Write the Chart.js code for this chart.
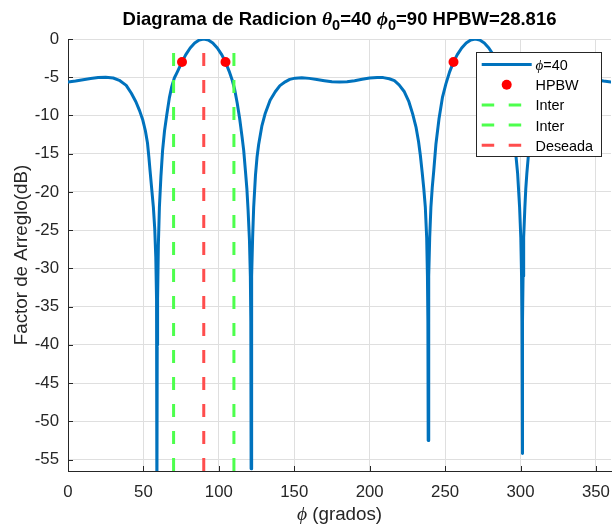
<!DOCTYPE html>
<html>
<head>
<meta charset="utf-8">
<script src="https://cdn.jsdelivr.net/npm/chart.js@4/dist/chart.umd.min.js"></script>
<style>
  html, body { margin: 0; padding: 0; background: #fff; overflow: hidden; width: 613px; height: 527px; }
  #wrap { position: relative; width: 613px; height: 527px; overflow: hidden; }
  canvas { display: block; }
</style>
</head>
<body>
<div id="wrap"><canvas id="c" width="616" height="527"></canvas></div>
<script>
// Array factor cut (dB) versus azimuth phi (degrees)
const phiDeg = [
  0, 5, 10, 15, 20, 25, 30, 34, 38.6, 42, 45, 47.5, 49.6, 51.3, 52.7, 53.6, 54.4, 55.5, 56.6, 57.5,
  58.2, 58.7, 58.88, 59.0, 59.15, 59.4, 59.9, 60.6, 61.6, 62.7, 64.0, 65.5, 67.2, 68.8, 70.5, 72.5, 75.59, 78,
  81, 84, 87, 90, 93, 96, 99, 102, 104.41, 106.8, 108.9, 110.5, 112.2, 113.8, 115.4, 116.5, 117.7,
  118.6, 119.4, 120.3, 120.9, 121.2, 121.4, 121.6, 121.9, 122.4, 123.1, 124.3, 125.3, 126.4, 128.5, 130.8, 134,
  137.4, 140.5, 144, 147, 150.6, 155, 160, 165, 170, 175, 180, 185, 190, 195, 200, 205, 209, 213,
  216.4, 219.5, 223, 226, 228.5, 230.8, 232.4, 233.6, 234.8, 235.9, 236.9, 237.8, 238.3, 238.6, 238.8,
  239.0, 239.3, 239.8, 240.6, 241.5, 242.5, 243.9, 246, 248.3, 250.5, 253, 255.59, 258, 261, 264, 267,
  270, 273, 276, 279, 282, 284.41, 287, 289.5, 291.7, 294, 295.9, 297, 298.1, 299.4, 300.2, 300.7, 301.0,
  301.2, 301.45, 301.7, 302.1, 302.9, 303.5, 304.2, 305.2, 306.4, 308, 309.9, 312.5, 315, 318, 321.5, 325,
  330, 335, 340, 345, 350, 355, 360
];
const afDb = [
  -5.63, -5.5, -5.33, -5.17, -5.05, -5.0, -5.1, -5.4, -6.07, -7.1, -8.2, -9.4, -10.6, -12.0, -13.6, -15.4, -17.2, -19.6, -22, -24.8,
  -28.5, -34, -40, -62, -40, -34, -27, -22, -18, -14.6, -12.0, -9.9, -7.7, -6.2, -5.1, -4.3, -3.0, -2.08,
  -1.17, -0.52, -0.13, 0, -0.13, -0.52, -1.17, -2.08, -3.0, -4.2, -5.4, -6.6, -8.4, -10.4, -12.8, -14.6, -17.4,
  -19.6, -22.4, -26.3, -31, -37, -56.2, -37, -31, -26, -22, -17.8, -15.5, -13.8, -11.4, -9.7, -8.0,
  -6.9, -6.1, -5.6, -5.28, -5.12, -5.08, -5.15, -5.3, -5.45, -5.58, -5.63, -5.58, -5.45, -5.27, -5.1, -5.02, -5.05, -5.2,
  -5.45, -6.0, -6.9, -8.2, -9.8, -11.6, -13.4, -15.2, -17.4, -19.6, -22, -26, -31, -37, -52.5,
  -37, -31, -26, -22, -19.4, -17.2, -13.8, -10.4, -7.6, -5.9, -4.3, -3.0, -2.08, -1.17, -0.52, -0.13,
  0, -0.13, -0.52, -1.17, -2.08, -3.0, -4.3, -5.9, -7.6, -10.4, -13.4, -15.3, -17.6, -22, -26, -31, -37,
  -54.2, -37, -31, -26, -22, -19.6, -17.6, -15.3, -13.4, -11.4, -9.7, -7.7, -6.3, -5.5, -5.15, -5.05,
  -5.0, -5.0, -5.05, -5.17, -5.33, -5.5, -5.63
];

// Half-power points
const hpbwPhi = [75.59, 104.41, 255.59];
const hpbwDb = [-3, -3, -3];

// Vertical reference lines
const interPhi = [70, 110];
const desiredPhi = 90;
const spanDb = [-56.5, 0];

// Axes
const xTicks = [0, 50, 100, 150, 200, 250, 300, 350];
const yTicks = [0, -5, -10, -15, -20, -25, -30, -35, -40, -45, -50, -55];
const xRange = [0, 360];
const yRange = [-56.5, 0];

const SANS = '"Liberation Sans", Arial, Helvetica, sans-serif';
const SERIF = '"Liberation Serif", "DejaVu Serif", serif';
const AX = '#262626';
const GRID = '#dfdfdf';
const BLUE = '#0072BD';
const GREEN = '#4dff4d';
const RED = '#ff4d4d';

const vLine = (px) => spanDb.map(v => ({ x: px, y: v }));

const datasets = [
  { label: 'ϕ=40', data: phiDeg.map((p, i) => ({ x: p, y: afDb[i] })),
    showLine: true, borderColor: BLUE, borderWidth: 3, borderJoinStyle: 'round', borderCapStyle: 'round',
    pointRadius: 0, order: 5, kind: 'line' },
  { label: 'HPBW', data: hpbwPhi.map((p, i) => ({ x: p, y: hpbwDb[i] })),
    showLine: false, pointRadius: 5, pointBackgroundColor: '#ff0000', pointBorderColor: '#ff0000',
    pointBorderWidth: 0, order: 4, kind: 'dot' },
  { label: 'Inter', data: vLine(interPhi[0]), showLine: true, borderColor: GREEN, borderWidth: 3,
    borderDash: [13, 14], pointRadius: 0, order: 3, kind: 'dash' },
  { label: 'Inter', data: vLine(interPhi[1]), showLine: true, borderColor: GREEN, borderWidth: 3,
    borderDash: [13, 14], pointRadius: 0, order: 2, kind: 'dash' },
  { label: 'Deseada', data: vLine(desiredPhi), showLine: true, borderColor: RED, borderWidth: 3,
    borderDash: [13, 14], pointRadius: 0, order: 1, kind: 'dash' }
];

function drawRuns(ctx, parts, cx, baseline) {
  let total = 0;
  parts.forEach(p => { ctx.font = p.font; p.w = ctx.measureText(p.text).width; total += p.w; });
  let x0 = cx - total / 2;
  parts.forEach(p => {
    ctx.font = p.font;
    ctx.fillText(p.text, x0, baseline + (p.dy || 0));
    x0 += p.w;
  });
}

const decor = {
  id: 'decor',
  afterDatasetsDraw(chart) {
    const { ctx, chartArea: a, scales: { x, y } } = chart;
    ctx.save();
    ctx.strokeStyle = AX;
    ctx.lineWidth = 1;
    ctx.beginPath();
    yTicks.forEach(v => {
      const py = Math.round(y.getPixelForValue(v)) + 0.5;
      ctx.moveTo(a.left, py); ctx.lineTo(a.left + 5, py);
    });
    xTicks.forEach(v => {
      const px = Math.round(x.getPixelForValue(v)) + 0.5;
      ctx.moveTo(px, a.bottom); ctx.lineTo(px, a.bottom - 5);
    });
    ctx.stroke();
    ctx.restore();
  },
  afterDraw(chart) {
    const { ctx, chartArea: a } = chart;
    const cx = (a.left + a.right) / 2;
    ctx.save();
    ctx.fillStyle = '#000';
    ctx.textAlign = 'left';
    ctx.textBaseline = 'alphabetic';

    // Title
    const tb = 'bold 18.5px ' + SANS;
    const tg = 'italic bold 19.5px ' + SERIF;
    const ts = 'bold 14.5px ' + SANS;
    drawRuns(ctx, [
      { text: 'Diagrama de Radicion ', font: tb },
      { text: 'θ', font: tg },
      { text: '0', font: ts, dy: 5 },
      { text: '=40 ', font: tb },
      { text: 'ϕ', font: tg },
      { text: '0', font: ts, dy: 5 },
      { text: '=90 HPBW=28.816', font: tb }
    ], cx, 25);

    // x-axis title
    ctx.fillStyle = AX;
    drawRuns(ctx, [
      { text: 'ϕ', font: 'italic 19.5px ' + SERIF },
      { text: ' (grados)', font: '18.8px ' + SANS }
    ], cx, 520);

    // Legend
    const L = { x: 476.5, y: 52.5, w: 125, h: 104 };
    ctx.fillStyle = '#fff';
    ctx.fillRect(L.x, L.y, L.w, L.h);
    ctx.strokeStyle = AX;
    ctx.lineWidth = 1;
    ctx.strokeRect(L.x, L.y, L.w, L.h);
    const s0 = 481.7, s1 = 531.7, tx = 535.5;
    chart.data.datasets.forEach((ds, i) => {
      const ry = 64.5 + i * 20.2;
      ctx.save();
      if (ds.kind === 'dot') {
        ctx.fillStyle = '#ff0000';
        ctx.beginPath();
        ctx.arc((s0 + s1) / 2, ry, 5, 0, Math.PI * 2);
        ctx.fill();
      } else {
        ctx.strokeStyle = ds.borderColor;
        ctx.lineWidth = 3;
        ctx.setLineDash(ds.kind === 'dash' ? [12.5, 14.5] : []);
        ctx.beginPath();
        ctx.moveTo(s0, ry); ctx.lineTo(s1, ry);
        ctx.stroke();
      }
      ctx.restore();
      ctx.fillStyle = '#000';
      ctx.textAlign = 'left';
      const base = ry + 5.5;
      if (ds.label.startsWith('ϕ')) {
        ctx.font = 'italic 15px ' + SERIF;
        ctx.fillText('ϕ', tx, base);
        const w = ctx.measureText('ϕ').width;
        ctx.font = '14.4px ' + SANS;
        ctx.fillText(ds.label.slice(1), tx + w, base);
      } else {
        ctx.font = '14.4px ' + SANS;
        ctx.fillText(ds.label, tx, base);
      }
    });
    ctx.restore();
  }
};

new Chart(document.getElementById('c'), {
  type: 'scatter',
  data: { datasets },
  options: {
    responsive: false,
    animation: false,
    events: [],
    layout: { padding: { top: 39, right: 1.3, left: 0, bottom: 0 } },
    plugins: { legend: { display: false }, title: { display: false }, tooltip: { enabled: false } },
    scales: {
      x: {
        type: 'linear', min: xRange[0], max: xRange[1],
        afterBuildTicks: s => { s.ticks = xTicks.map(v => ({ value: v })); },
        afterFit: s => { s.height = 56; s.paddingLeft = 0; s.paddingRight = 0; },
        ticks: { font: { family: SANS, size: 16.8 }, color: AX, padding: 11, maxRotation: 0, autoSkip: false },
        grid: { color: GRID, lineWidth: 1, drawTicks: false },
        border: { display: true, color: AX, width: 1 }
      },
      y: {
        type: 'linear', min: yRange[0], max: yRange[1],
        afterBuildTicks: s => { s.ticks = yTicks.map(v => ({ value: v })); },
        afterFit: s => { s.width = 68; s.paddingTop = 0; s.paddingBottom = 0; },
        ticks: { font: { family: SANS, size: 16.8 }, color: AX, padding: 9, autoSkip: false },
        grid: { color: GRID, lineWidth: 1, drawTicks: false },
        border: { display: true, color: AX, width: 1 },
        title: { display: true, text: 'Factor de Arreglo(dB)', color: AX,
                 font: { family: SANS, size: 18.8 }, padding: { top: 11, bottom: 0 } }
      }
    }
  },
  plugins: [decor]
});
</script>
</body>
</html>
